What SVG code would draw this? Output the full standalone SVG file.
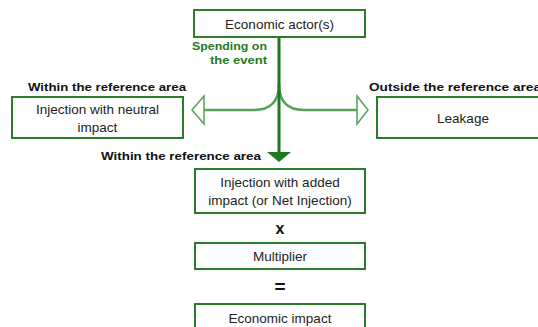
<svg xmlns="http://www.w3.org/2000/svg" width="538" height="327" viewBox="0 0 538 327">
<style>
.box{fill:#fff;stroke:#2a7d2a;stroke-width:2}
.t{font-family:"Liberation Sans",Arial,sans-serif;font-size:13.5px;fill:#222;text-anchor:middle}
.op{font-family:"Liberation Sans",Arial,sans-serif;font-weight:bold;fill:#111;text-anchor:middle}
.lb{font-family:"Liberation Sans",Arial,sans-serif;font-size:11.5px;font-weight:bold;fill:#111}
.g{fill:#1f7a1f}
.side{fill:none;stroke:#5a9f5a;stroke-width:2.5}
.head{fill:#fff;stroke:#5a9f5a;stroke-width:1.5}
</style>
<rect width="538" height="327" fill="#fff"/>
<g id="connectors">
<path class="side" d="M279,84 Q279,110 254,110 L204,110"/>
<path class="side" d="M279,84 Q279,110 304,110 L357,110"/>
<polygon class="head" points="192,110 204,96 204,124"/>
<polygon class="head" points="368,110 357,96 357,124"/>
<line x1="279" y1="37" x2="279" y2="153" stroke="#1f7a1f" stroke-width="3"/>
<polygon points="267,152 291,152 279,162" fill="#1f7a1f"/>
<text class="lb g" x="267" y="50" text-anchor="end" textLength="75" lengthAdjust="spacingAndGlyphs">Spending on</text>
<text class="lb g" x="267" y="64" text-anchor="end" textLength="57" lengthAdjust="spacingAndGlyphs">the event</text>
<text class="lb" x="101" y="160" textLength="160" lengthAdjust="spacingAndGlyphs">Within the reference area</text>
</g>
<g id="actor">
<rect class="box" x="194" y="10" width="171" height="27"/>
<text class="t" x="279.5" y="28.5">Economic actor(s)</text>
</g>
<g id="neutral">
<text class="lb" x="28" y="91" textLength="158" lengthAdjust="spacingAndGlyphs">Within the reference area</text>
<rect class="box" x="12" y="97" width="171" height="41"/>
<text class="t" x="97.5" y="114">Injection with neutral</text>
<text class="t" x="97.5" y="132">impact</text>
</g>
<g id="leakage">
<text class="lb" x="369" y="91" textLength="172" lengthAdjust="spacingAndGlyphs">Outside the reference area</text>
<rect class="box" x="377" y="97" width="170" height="41"/>
<text class="t" x="463" y="123">Leakage</text>
</g>
<g id="net">
<rect class="box" x="195" y="169" width="170" height="44"/>
<text class="t" x="280" y="187">Injection with added</text>
<text class="t" x="280" y="205">impact (or Net Injection)</text>
</g>
<text class="op" x="280" y="234" style="font-size:16px">x</text>
<g id="multiplier">
<rect class="box" x="195" y="243" width="170" height="26"/>
<text class="t" x="280" y="261">Multiplier</text>
</g>
<text class="op" x="280" y="293" style="font-size:19px">=</text>
<g id="impact">
<rect class="box" x="195" y="304" width="170" height="30"/>
<text class="t" x="280" y="323">Economic impact</text>
</g>
</svg>
